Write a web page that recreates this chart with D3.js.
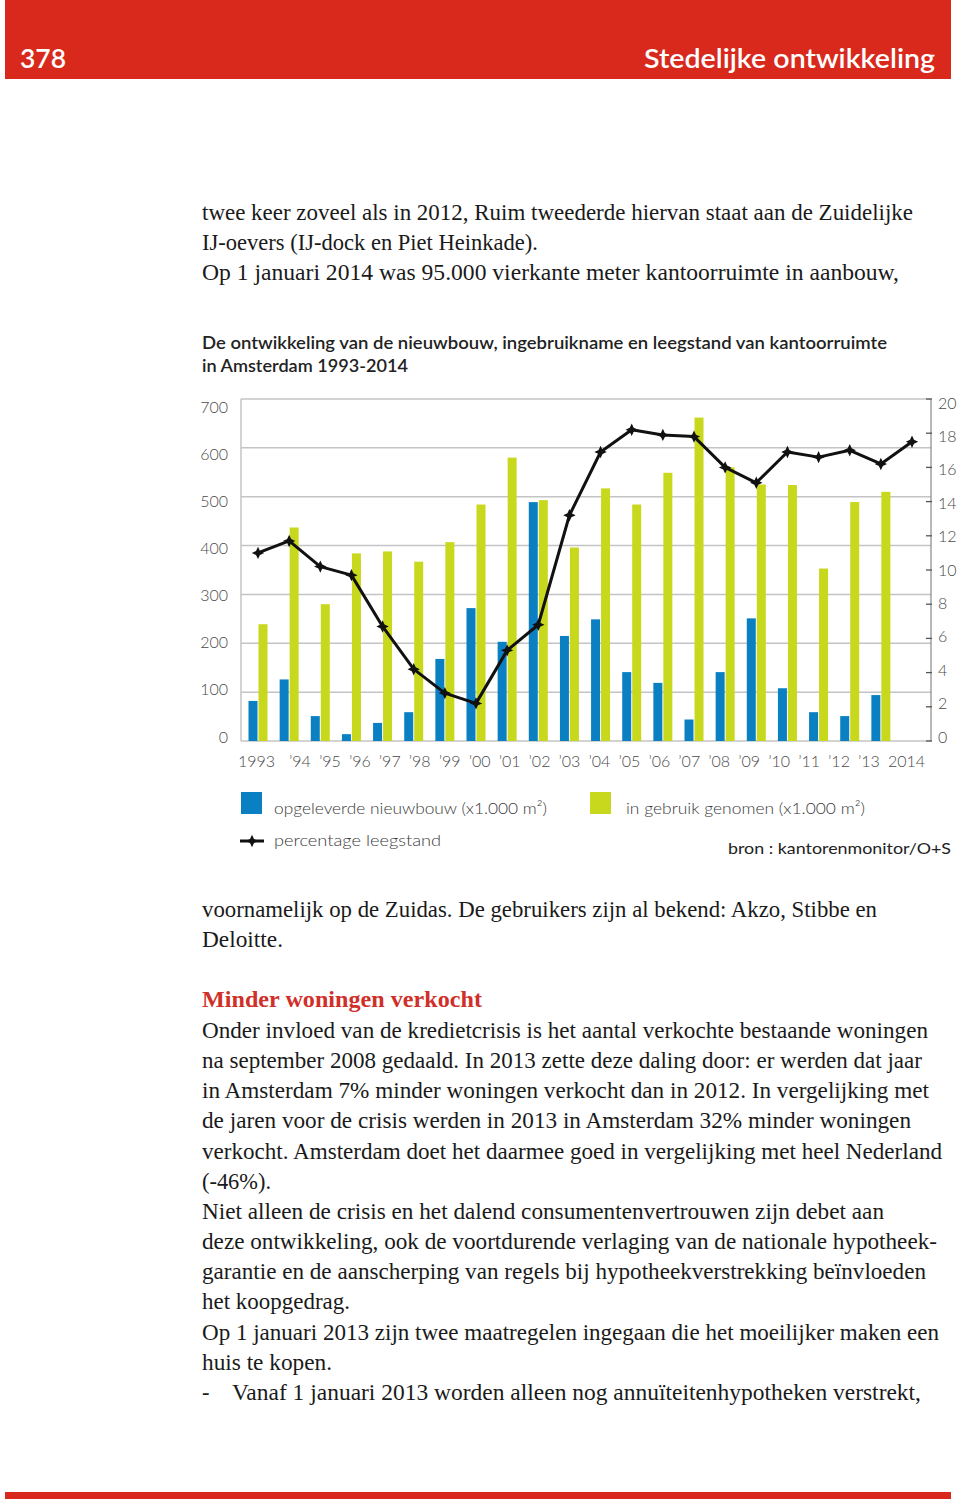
<!DOCTYPE html>
<html><head><meta charset="utf-8">
<script src="https://cdn.jsdelivr.net/npm/d3@7"></script>
<style>body{margin:0;background:#fff} svg{display:block}</style>
</head><body>
<script>
// ---------- data ----------
const years = [1993,1994,1995,1996,1997,1998,1999,2000,2001,2002,2003,2004,2005,2006,2007,2008,2009,2010,2011,2012,2013,2014];
const yearLabels = ["1993","’94","’95","’96","’97","’98","’99","’00","’01","’02","’03","’04","’05","’06","’07","’08","’09","’10","’11","’12","’13","2014"];
const nieuwbouw = [82,126,51,14,37,59,168,272,203,489,215,249,141,119,44,141,251,108,59,51,94,null];
const inGebruik = [239,437,280,384,388,367,407,484,580,493,396,517,484,549,662,560,525,524,353,489,510,null];
const leegstand = [11.0,11.7,10.2,9.7,6.7,4.2,2.8,2.2,5.3,6.8,13.2,16.9,18.2,17.9,17.8,16.0,15.1,16.9,16.6,17.0,16.2,17.5];
const leftTicks = [0,100,200,300,400,500,600,700];
const rightTicks = [0,2,4,6,8,10,12,14,16,18,20];
const legendLabels = ["opgeleverde nieuwbouw (x1.000 m²)","in gebruik genomen (x1.000 m²)","percentage leegstand"];
const sourceLabel = "bron : kantorenmonitor/O+S";
const chartTitle = ["De ontwikkeling van de nieuwbouw, ingebruikname en leegstand van kantoorruimte","in Amsterdam 1993-2014"];
const headerLeft = "378";
const headerRight = "Stedelijke ontwikkeling";
const textTop = ["twee keer zoveel als in 2012, Ruim tweederde hiervan staat aan de Zuidelijke",
 "IJ-oevers (IJ-dock en Piet Heinkade).",
 "Op 1 januari 2014 was 95.000 vierkante meter kantoorruimte in aanbouw,"];
const textBottom = ["voornamelijk op de Zuidas. De gebruikers zijn al bekend: Akzo, Stibbe en","Deloitte."];
const heading = "Minder woningen verkocht";
const textBody = ["Onder invloed van de kredietcrisis is het aantal verkochte bestaande woningen",
 "na september 2008 gedaald. In 2013 zette deze daling door: er werden dat jaar",
 "in Amsterdam 7% minder woningen verkocht dan in 2012. In vergelijking met",
 "de jaren voor de crisis werden in 2013 in Amsterdam 32% minder woningen",
 "verkocht. Amsterdam doet het daarmee goed in vergelijking met heel Nederland",
 "(-46%).",
 "Niet alleen de crisis en het dalend consumentenvertrouwen zijn debet aan",
 "deze ontwikkeling, ook de voortdurende verlaging van de nationale hypotheek-",
 "garantie en de aanscherping van regels bij hypotheekverstrekking beïnvloeden",
 "het koopgedrag.",
 "Op 1 januari 2013 zijn twee maatregelen ingegaan die het moeilijker maken een",
 "huis te kopen."];
const bulletText = "Vanaf 1 januari 2013 worden alleen nog annuïteitenhypotheken verstrekt,";

// ---------- layout (not data) ----------
const W = 960, H = 1509;
const widthsTop = [711,336,697];
const widthsBottom = [675,81];
const widthsBody = [726,720,727,709,740,69,682,735,724,148,737,130];
const RED = "#d9291c", BLUE = "#0a80c2", GREEN = "#c8d81c";
const SERIF = "'Liberation Serif','DejaVu Serif',serif";
const SANS = "Lato,'Noto Sans',sans-serif";

const svg = d3.select("body").append("svg").attr("width", W).attr("height", H);
svg.append("rect").attr("width", W).attr("height", H).attr("fill", "#fff");

// header
svg.append("rect").attr("x",5).attr("y",0).attr("width",946).attr("height",79).attr("fill",RED);
svg.append("text").attr("x",20).attr("y",68).attr("fill","#fff").attr("font-family",SANS)
  .attr("font-weight",600).attr("font-size",27).attr("textLength",46).attr("lengthAdjust","spacingAndGlyphs").text(headerLeft);
svg.append("text").attr("x",935).attr("y",68).attr("text-anchor","end").attr("fill","#fff").attr("font-family",SANS)
  .attr("font-weight",600).attr("font-size",27).attr("textLength",291).attr("lengthAdjust","spacingAndGlyphs").text(headerRight);
// footer rule
svg.append("rect").attr("x",5).attr("y",1492).attr("width",946).attr("height",7).attr("fill",RED);

function para(lines, widths, y0, opts={}) {
  lines.forEach((t,i)=>{
    svg.append("text").attr("x",opts.x||202).attr("y",y0+i*30.15)
      .attr("font-family",SERIF).attr("font-size",opts.size||22.5).attr("fill",opts.fill||"#1a1a1a")
      .attr("font-weight",opts.weight||400)
      .attr("textLength",widths[i]).attr("lengthAdjust","spacingAndGlyphs").text(t);
  });
}
para(textTop, widthsTop, 220);
para(textBottom, widthsBottom, 917);
para([heading],[280],1007,{fill:"#d0302a",weight:700});
para(textBody, widthsBody, 1038);
svg.append("text").attr("x",202).attr("y",1400).attr("font-family",SERIF).attr("font-size",22.5).attr("fill","#1a1a1a").text("-");
para([bulletText],[689],1400,{x:232});

// chart title
svg.append("text").attr("x",202).attr("y",349).attr("font-family",SANS).attr("font-weight",600).attr("font-size",17)
  .attr("fill","#222").attr("textLength",685).attr("lengthAdjust","spacingAndGlyphs").text(chartTitle[0]);
svg.append("text").attr("x",202).attr("y",372).attr("font-family",SANS).attr("font-weight",600).attr("font-size",17)
  .attr("fill","#222").attr("textLength",206).attr("lengthAdjust","spacingAndGlyphs").text(chartTitle[1]);

// ---------- chart ----------
const plotL = 241, plotR = 931, plotT = 399, plotB = 741;
const x = d3.scalePoint().domain(years).range([258, 912]);
const yL = d3.scaleLinear().domain([0,700]).range([plotB, plotT]);
const yR = d3.scaleLinear().domain([0,20]).range([plotB, plotT]);
const yLlab = d3.scaleLinear().domain([0,700]).range([737, 407]);
const yRlab = d3.scaleLinear().domain([0,20]).range([737, 403]);
const xLab = d3.scaleLinear().domain([1994,2014]).range([289, 888]);

const g = svg.append("g");
// gridlines
g.selectAll("line.grid").data(leftTicks).join("line").attr("class","grid")
  .attr("x1",plotL).attr("x2",plotR).attr("y1",d=>yL(d)).attr("y2",d=>yL(d))
  .attr("stroke","#c4c4c4").attr("stroke-width",1.5);
g.append("line").attr("x1",plotL).attr("x2",plotL).attr("y1",plotT).attr("y2",plotB).attr("stroke","#c4c4c4").attr("stroke-width",1.5);
g.append("line").attr("x1",plotR).attr("x2",plotR).attr("y1",plotT).attr("y2",plotB).attr("stroke","#888").attr("stroke-width",1.2);
// right ticks
g.selectAll("line.rt").data(rightTicks).join("line").attr("class","rt")
  .attr("x1",plotR-5).attr("x2",plotR+1).attr("y1",d=>yR(d)).attr("y2",d=>yR(d))
  .attr("stroke","#555").attr("stroke-width",1.3);

// tick labels
g.selectAll("text.ll").data(leftTicks).join("text").attr("class","ll")
  .attr("x",228).attr("y",d=>yLlab(d)+5.5).attr("text-anchor","end")
  .attr("font-family",SANS).attr("font-weight",300).attr("font-size",16).attr("fill","#4a4a4a").text(d=>d);
g.selectAll("text.rl").data(rightTicks).join("text").attr("class","rl")
  .attr("x",938).attr("y",d=>yRlab(d)+5.5)
  .attr("font-family",SANS).attr("font-weight",300).attr("font-size",16).attr("fill","#4a4a4a").text(d=>d);
g.selectAll("text.xl").data(years).join("text").attr("class","xl")
  .attr("x",(d,i)=> i===0 ? 275 : xLab(d))
  .attr("text-anchor",(d,i)=> i===0 ? "end" : "start")
  .attr("y",767)
  .attr("font-family",SANS).attr("font-weight",300).attr("font-size",16).attr("fill","#4a4a4a")
  .text((d,i)=>yearLabels[i]);

// bars
const bw = 9;
g.selectAll("rect.blue").data(years.map((y,i)=>({y,v:nieuwbouw[i]})).filter(d=>d.v!=null)).join("rect").attr("class","blue")
  .attr("x",d=>x(d.y)-bw-0.5).attr("width",bw).attr("y",d=>yL(d.v)).attr("height",d=>yL(0)-yL(d.v)).attr("fill",BLUE);
g.selectAll("rect.green").data(years.map((y,i)=>({y,v:inGebruik[i]})).filter(d=>d.v!=null)).join("rect").attr("class","green")
  .attr("x",d=>x(d.y)+0.5).attr("width",bw).attr("y",d=>yL(d.v)).attr("height",d=>yL(0)-yL(d.v)).attr("fill",GREEN);

// line
const star4 = { draw(ctx, size){ const r=Math.sqrt(size)/1.25, k=r*0.32;
  ctx.moveTo(0,-r); ctx.lineTo(k,-k); ctx.lineTo(r,0); ctx.lineTo(k,k); ctx.lineTo(0,r); ctx.lineTo(-k,k); ctx.lineTo(-r,0); ctx.lineTo(-k,-k); ctx.closePath(); } };
const lineGen = d3.line().x((d,i)=>x(years[i])).y(d=>yR(d));
g.append("path").datum(leegstand).attr("d",lineGen).attr("fill","none").attr("stroke","#111").attr("stroke-width",3).attr("stroke-linejoin","round");
g.selectAll("path.mk").data(leegstand).join("path").attr("class","mk")
  .attr("transform",(d,i)=>`translate(${x(years[i])},${yR(d)})`)
  .attr("d",d3.symbol().type(star4).size(60)).attr("fill","#111");

// legend
const lg = svg.append("g");
lg.append("rect").attr("x",241).attr("y",792).attr("width",21).attr("height",22).attr("fill",BLUE);
lg.append("rect").attr("x",590).attr("y",792).attr("width",21).attr("height",22).attr("fill",GREEN);
lg.append("text").attr("x",274).attr("y",814).attr("font-family",SANS).attr("font-weight",300).attr("font-size",16).attr("fill","#3a3a3a")
  .attr("textLength",273).attr("lengthAdjust","spacingAndGlyphs").text(legendLabels[0]);
lg.append("text").attr("x",626).attr("y",814).attr("font-family",SANS).attr("font-weight",300).attr("font-size",16).attr("fill","#3a3a3a")
  .attr("textLength",239).attr("lengthAdjust","spacingAndGlyphs").text(legendLabels[1]);
lg.append("line").attr("x1",240).attr("x2",264).attr("y1",841).attr("y2",841).attr("stroke","#111").attr("stroke-width",3);
lg.append("path").attr("transform","translate(252,841)").attr("d",d3.symbol().type(star4).size(60)).attr("fill","#111");
lg.append("text").attr("x",274).attr("y",846).attr("font-family",SANS).attr("font-weight",300).attr("font-size",16).attr("fill","#3a3a3a")
  .attr("textLength",167).attr("lengthAdjust","spacingAndGlyphs").text(legendLabels[2]);
lg.append("text").attr("x",951).attr("y",854).attr("text-anchor","end").attr("font-family",SANS).attr("font-weight",400).attr("font-size",16).attr("fill","#222")
  .attr("textLength",223).attr("lengthAdjust","spacingAndGlyphs").text(sourceLabel);
</script>
</body></html>
